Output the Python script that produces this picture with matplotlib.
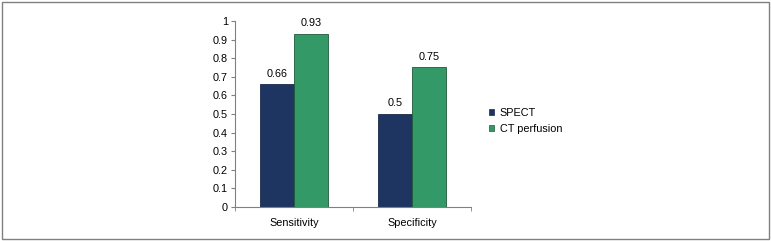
import matplotlib.pyplot as plt
import matplotlib.patches as mpatches
import numpy as np

plt.rcParams['font.family'] = ['Liberation Sans', 'DejaVu Sans']

# data
categories = ['Sensitivity', 'Specificity']
spect = [0.66, 0.5]
ct_perfusion = [0.93, 0.75]
series_names = ['SPECT', 'CT perfusion']
yticks = [0, 0.1, 0.2, 0.3, 0.4, 0.5, 0.6, 0.7, 0.8, 0.9, 1]

BLUE = '#1f3561'
GREEN = '#339966'

fig = plt.figure(figsize=(7.71, 2.41), dpi=100)
ax = fig.add_axes([235 / 771, 34 / 241, 236 / 771, 186 / 241])

x = np.arange(len(categories)) + 0.5
w = 0.288
b1 = ax.bar(x - w / 2, spect, w, color=BLUE, edgecolor='#1a2a4a', linewidth=0.6, label=series_names[0])
b2 = ax.bar(x + w / 2, ct_perfusion, w, color=GREEN, edgecolor='#1f5a3a', linewidth=0.6, label=series_names[1])

for bars, vals in ((b1, spect), (b2, ct_perfusion)):
    for r, v in zip(bars, vals):
        ax.text(r.get_x() + r.get_width() / 2, v + 0.03, f"{v:g}",
                ha='center', va='bottom', fontsize=7.8)

ax.set_xlim(0, len(categories))
ax.set_ylim(0, 1)
ax.set_yticks(yticks)
ax.set_yticklabels([f"{t:g}" for t in yticks], fontsize=7.8)
ax.set_xticks(x)
ax.set_xticklabels(categories, fontsize=7.8)
ax.tick_params(axis='x', length=0, pad=8)
ax.set_xticks(np.arange(len(categories) + 1), minor=True)
ax.tick_params(axis='x', which='minor', length=3, color='#808080')
ax.tick_params(axis='y', length=3, color='#808080', pad=2)
for s in ['top', 'right']:
    ax.spines[s].set_visible(False)
for s in ['left', 'bottom']:
    ax.spines[s].set_color('#808080')
    ax.spines[s].set_linewidth(0.8)

handles = [mpatches.Patch(facecolor=BLUE, edgecolor='#1a2a4a', linewidth=0.5),
           mpatches.Patch(facecolor=GREEN, edgecolor='#1f5a3a', linewidth=0.5)]
fig.legend(handles, series_names, loc='upper left', bbox_to_anchor=(479 / 771, 1 - 98 / 241),
           frameon=False, fontsize=7.8, handlelength=0.5, handleheight=0.5,
           handletextpad=0.5, labelspacing=0.6)

fig.add_artist(mpatches.Rectangle((2 / 771, 2 / 241), 767 / 771, 237 / 241,
                                  transform=fig.transFigure, fill=False,
                                  edgecolor='#808080', linewidth=1))

fig.savefig('out.png', dpi=100)
